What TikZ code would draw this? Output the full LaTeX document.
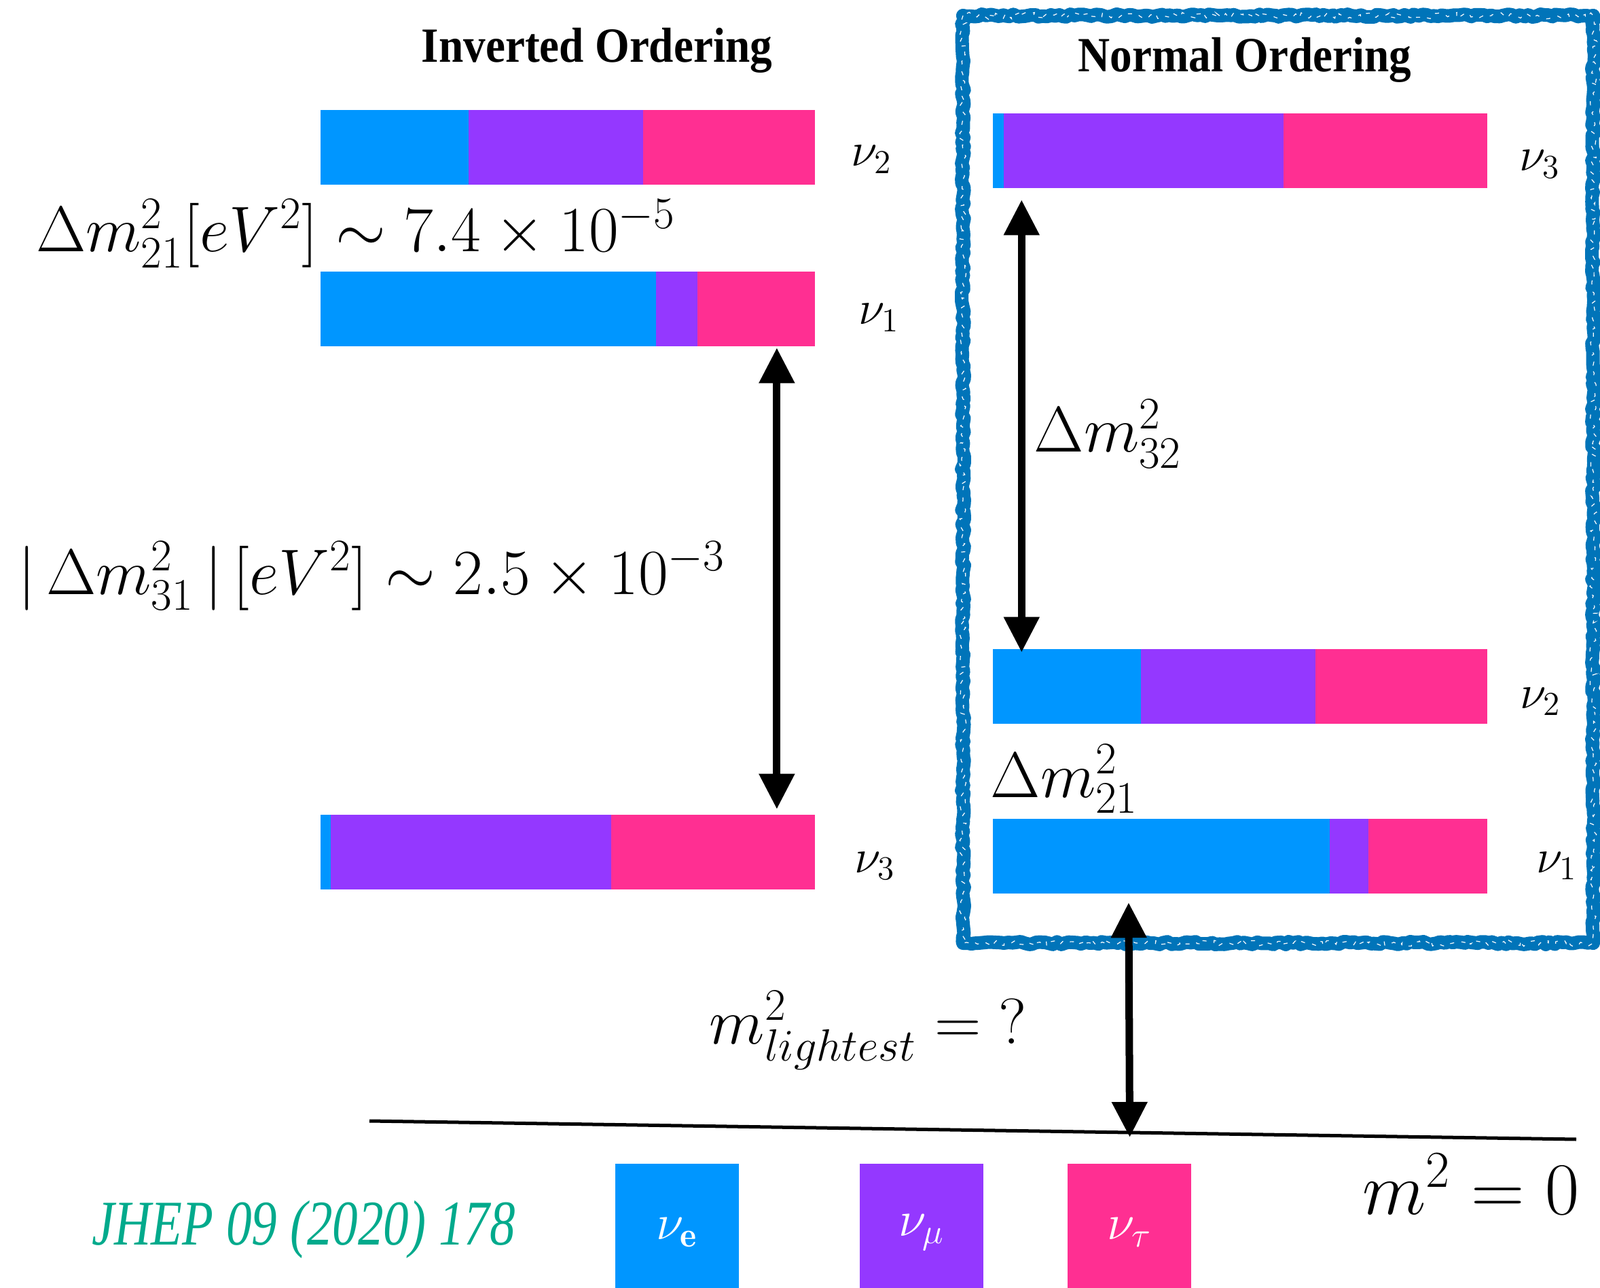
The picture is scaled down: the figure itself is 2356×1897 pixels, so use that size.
\RequirePackage{fix-cm}
\documentclass[tikz,border=0pt]{standalone}
\usepackage{fontspec}
\usepackage{amsmath}
\usetikzlibrary{arrows.meta,positioning,calc,decorations.pathmorphing}

\newfontfamily\titlefont{Liberation Serif Bold}[FakeStretch=0.9]
\newfontfamily\reffont{Liberation Serif Italic}[FakeStretch=0.8]

\definecolor{nue}{RGB}{0,150,255}
\definecolor{numu}{RGB}{148,56,255}
\definecolor{nutau}{RGB}{255,47,146}
\definecolor{boxblue}{RGB}{0,116,185}
\definecolor{refteal}{RGB}{0,170,140}

% one mass eigenstate: name, centre, end of e share, end of mu share
\newcommand{\massbar}[4]{%
  \node[barbox] (#1) at (#2) {};
  \fill[nue] (#1.north west) rectangle ($(#1.south west)!#3!(#1.south east)$);
  \fill[numu] ($(#1.north west)!#3!(#1.north east)$) rectangle ($(#1.south west)!#4!(#1.south east)$);
  \fill[nutau] ($(#1.north west)!#4!(#1.north east)$) rectangle (#1.south east);
}

\begin{document}
\begin{tikzpicture}[
    x=0.01cm, y=-0.01cm,
    >={Triangle[length=0.52cm,width=0.5cm]},
    barbox/.style={rectangle, inner sep=0pt, minimum width=7.26cm, minimum height=1.09cm},
    eiglabel/.style={anchor=base west, inner sep=0pt, font=\fontsize{20}{24}\selectfont},
    splitlabel/.style={inner sep=0pt, font=\fontsize{27}{32}\selectfont},
    heading/.style={anchor=base, inner sep=0pt, font=\titlefont\fontsize{20.6}{25}\selectfont},
    flavour/.style={rectangle, inner sep=0pt, minimum width=1.81cm, minimum height=2.02cm,
        text=white, font=\fontsize{21}{25}\selectfont},
    conn/.style={<->, line width=0.11cm},
    rough/.style={draw=boxblue, line width=0.2cm, line join=round, decorate,
        decoration={random steps, segment length=0.06cm, amplitude=0.02cm}}
]
    \useasboundingbox (0,0) rectangle (2356,1897);

    % Normal ordering frame
    \draw[rough] (1418,23) rectangle (2346,1389);
    \draw[rough, line width=0.08cm, decoration={random steps, segment length=0.04cm, amplitude=0.045cm}]
        (1418,23) rectangle (2346,1389);
    \draw[white, line width=0.012cm, dash pattern=on 0.06cm off 0.11cm, decorate,
        decoration={random steps, segment length=0.05cm, amplitude=0.05cm}]
        (1418,23) rectangle (2346,1389);

    % Headings
    \node[heading] (iohead) at (879,92) {Inverted Ordering};
    \node[heading] (nohead) at (1833,106) {Normal Ordering};

    % Inverted ordering
    \massbar{io2}{836,217}{0.30}{0.653}
    \massbar{io1}{836,455}{0.679}{0.762}
    \massbar{io3}{836,1255}{0.02}{0.588}
    \node[eiglabel] (io2lab) at ($(io2.east)+(53,28)$) {$\nu_2$};
    \node[eiglabel] (io1lab) at ($(io1.east)+(64,23)$) {$\nu_1$};
    \node[eiglabel] (io3lab) at ($(io3.east)+(58,30)$) {$\nu_3$};

    % Normal ordering
    \massbar{no3}{1826,222}{0.022}{0.588}
    \massbar{no2}{1826,1011}{0.30}{0.652}
    \massbar{no1}{1826,1261}{0.681}{0.76}
    \node[eiglabel] (no3lab) at ($(no3.east)+(47,30)$) {$\nu_3$};
    \node[eiglabel] (no2lab) at ($(no2.east)+(48,32)$) {$\nu_2$};
    \node[eiglabel] (no1lab) at ($(no1.east)+(72,24)$) {$\nu_1$};

    % Splittings
    \node[splitlabel, anchor=base] (dm21io) at (524,371) {$\Delta m^2_{21}[eV^2] \sim 7.4 \times 10^{-5}$};
    \node[splitlabel, anchor=base] (dm31io) at (547,875) {$|\,\Delta m^2_{31}\,|\,[eV^2] \sim 2.5 \times 10^{-3}$};
    \node[splitlabel, anchor=base west] (dm32no) at (1522,666) {$\Delta m^2_{32}$};
    \node[splitlabel, anchor=base west] (dm21no) at (1458,1174) {$\Delta m^2_{21}$};
    \node[splitlabel, anchor=base west] (mlight) at (1044,1537) {$m^2_{lightest} = {?}$};
    \node[splitlabel, anchor=base east, font=\fontsize{31}{37}\selectfont] (mzero) at (2326,1788) {$m^2 = 0$};

    % Zero line
    \coordinate (zl) at (544,1651);
    \coordinate (zr) at (2321,1678);
    \draw[line width=0.05cm] (zl) -- (zr);

    % Arrows
    \draw[conn, shorten <=0.02cm, shorten >=0.08cm] ($(io1.south west)!0.923!(io1.south east)$) -- ($(io3.north west)!0.923!(io3.north east)$);
    \draw[conn, shorten <=0.17cm, shorten >=-0.05cm] ($(no3.south west)!0.058!(no3.south east)$) -- ($(no2.north west)!0.058!(no2.north east)$);
    \draw[conn, shorten <=0.13cm, shorten >=-0.07cm] ($(no1.south west)!0.2745!(no1.south east)$) -- ($(zl)!0.63!(zr)$);

    % Flavour legend
    \node[flavour, fill=nue] (leg-e) at (997,1815) {$\nu_{\mathbf{e}}$};
    \node[flavour, fill=numu] (leg-mu) at (1357,1815) {$\nu_\mu$};
    \node[flavour, fill=nutau] (leg-tau) at (1663,1815) {$\nu_\tau$};

    % Reference
    \node[anchor=base, inner sep=0pt, font=\reffont\fontsize{26.7}{32}\selectfont, text=refteal] (jhep) at (447,1833) {JHEP 09 (2020) 178};
\end{tikzpicture}
\end{document}
